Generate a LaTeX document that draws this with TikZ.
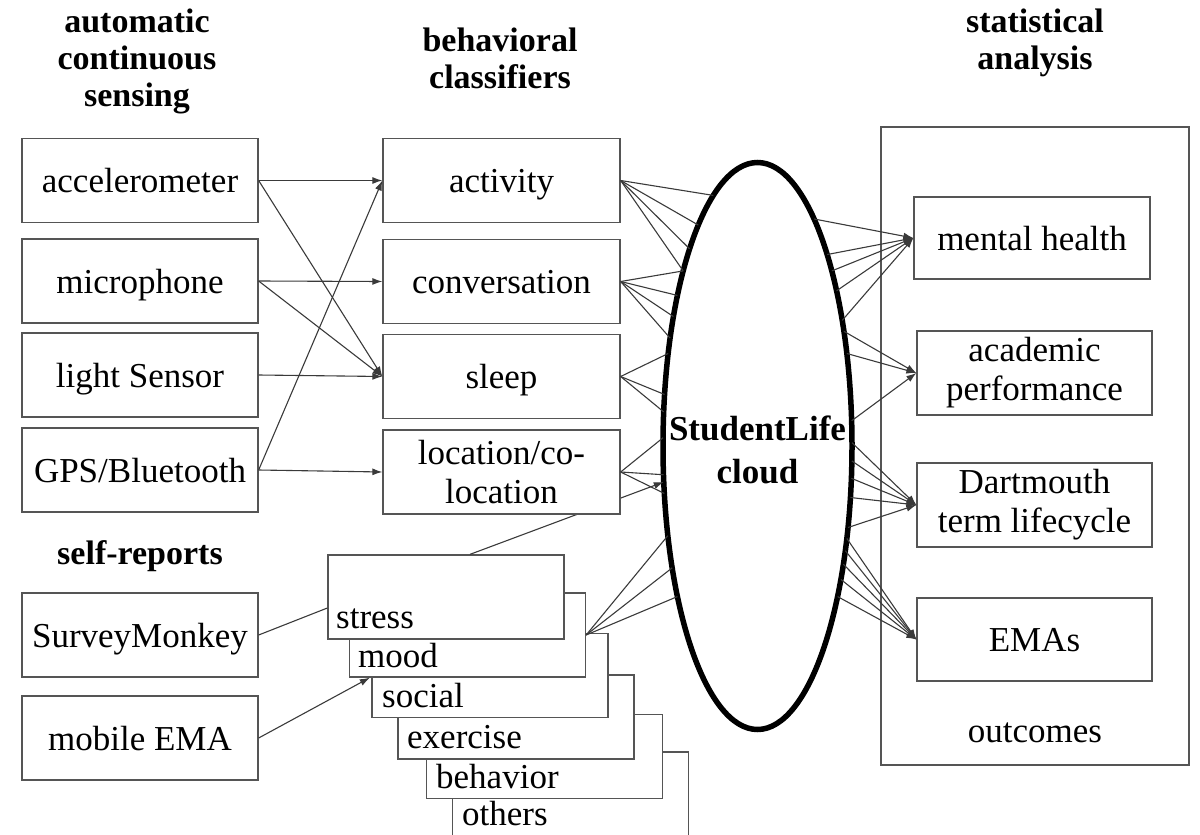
\documentclass[tikz,border=0pt]{standalone}
\usepackage{fontspec}
\setmainfont{Liberation Serif}
\usetikzlibrary{arrows.meta,shapes.geometric}
\definecolor{boxgray}{HTML}{555555}
\definecolor{linegray}{HTML}{3A3A3A}
\begin{document}
\begin{tikzpicture}[x=1pt,y=-1pt,
  hdr/.style={font=\fontsize{34}{37}\selectfont\bfseries, align=center, inner sep=0pt},
  plain/.style={font=\fontsize{35}{38}\selectfont, inner sep=0pt},
  box/.style={draw=boxgray, line width=1.3pt, fill=white, inner sep=0pt,
    minimum width=236pt, minimum height=84pt, align=center,
    font=\fontsize{35}{39}\selectfont},
  onebox/.style={box, text height=24pt, text depth=0pt},
  stk/.style={draw=boxgray, line width=1.3pt, fill=white, inner sep=0pt,
    minimum width=236pt, minimum height=84pt},
  conn/.style={draw=linegray, line width=1.1pt},
  arr/.style={conn, -{Latex[length=10pt,width=7pt]}}
]
\useasboundingbox (0,0) rectangle (1200,835);

% headers
\node[hdr] (h1) at (137,61) {automatic\\continuous\\sensing};
\node[hdr] (h2) at (500,58) {behavioral\\classifiers};
\node[hdr] (h3) at (1035,43) {statistical\\analysis};
\node[hdr] (h4) at (140,556) {self-reports};

% left column
\node[onebox] (acc) at (140,180.5) {accelerometer};
\node[onebox] (mic) at (140,281) {microphone};
\node[onebox] (light) at (140,375) {light Sensor};
\node[onebox] (gps) at (140,470) {GPS/Bluetooth};
\node[onebox] (sm) at (140,635) {SurveyMonkey};
\node[onebox] (ema) at (140,738) {mobile EMA};

% middle column
\node[onebox, minimum width=237pt] (act) at (501.5,180.5) {activity};
\node[onebox, minimum width=237pt] (conv) at (501.5,281.5) {conversation};
\node[onebox, minimum width=237pt] (sleep) at (501.5,376.5) {sleep};

% cloud
\node[ellipse, draw=black, line width=5.5pt, minimum width=189pt, minimum height=567pt,
  inner sep=0pt, outer sep=0pt] (cloud) at (757.5,446) {};
\node[font=\fontsize{35}{43}\selectfont\bfseries, align=center, inner sep=0pt] (cloudlabel)
  at (757.5,450) {StudentLife\\cloud};

% stacked self-report boxes (back to front)
\node[stk, minimum height=98pt] (others) at (570.5,801) {};
\node[stk] (behav) at (544.5,756.5) {};
\node[stk] (exer) at (516,717) {};
\node[stk] (social) at (490,675.5) {};
\node[stk] (mood) at (467.5,635) {};
\node[stk] (stress) at (446,597) {};
\node[plain, anchor=base west] (tothers) at (462,825) {others};
\node[plain, anchor=base west] (tbehav) at (436,788) {behavior};
\node[plain, anchor=base west] (texer) at (407,748) {exercise};
\node[plain, anchor=base west] (tsocial) at (382,707) {social};
\node[plain, anchor=base west] (tmood) at (358,667) {mood};
\node[plain, anchor=base west] (tstress) at (336,628) {stress};

% stress -> cloud line passing behind location box
\draw[arr] ([xshift=24pt]stress.north) -- (cloud.201.5);
\node[box, minimum width=237pt] (loc) at (501.5,472) {location/co-\\location};

% outcomes
\node[draw=boxgray, line width=1.3pt, minimum width=308pt, minimum height=638pt, inner sep=0pt] (outbox) at (1035,446) {};
\node[onebox, minimum height=82pt] (mh) at (1032,238) {mental health};
\node[box, minimum width=235pt] (acad) at (1034.5,373) {academic\\performance};
\node[box, minimum width=235pt] (dart) at (1034.5,505) {Dartmouth\\term lifecycle};
\node[onebox, minimum width=235pt, minimum height=83pt] (emas) at (1034.5,639.5) {EMAs};
\node[plain] (outc) at (1035,733) {outcomes};

% sensors -> classifiers
\draw[arr] (acc.east) -- (act.west);
\draw[arr] (acc.east) -- (sleep.west);
\draw[arr] (mic.east) -- (conv.west);
\draw[arr] (mic.east) -- (sleep.west);
\draw[arr] (light.east) -- (sleep.west);
\draw[arr] (gps.east) -- (loc.west);
\draw[arr] (gps.east) -- (act.west);

% self reports
\draw[conn] (sm.east) -- ([yshift=-11pt]stress.west);
\draw[arr] (ema.east) -- ([xshift=21pt]mood.south west);

% classifiers -> cloud
\foreach \a in {100.3,105.5,109.6,113.4} \draw[conn] (act.east) -- (cloud.\a);
\foreach \a in {113.4,118.4,123.9,129.6} \draw[conn] (conv.east) -- (cloud.\a);
\foreach \a in {134.5,151.3,160.6} \draw[conn] (sleep.east) -- (cloud.\a);
\foreach \a in {175.2,197.1,207.8} \draw[conn] (loc.east) -- (cloud.\a);
\foreach \a in {225.8,235.0,242.7} \draw[conn] (mood.east) -- (cloud.\a);

% cloud -> outcomes
\foreach \a in {76.0,70.8,67.7,63.2,56.6} \draw[arr] (cloud.\a) -- (mh.west);
\foreach \a in {53.9,46.5,15.4} \draw[arr] (cloud.\a) -- (acad.west);
\foreach \a in {2.4,-9.6,-19.9,-29.2,-42.9} \draw[arr] (cloud.\a) -- (dart.west);
\foreach \a in {-46.5,-50.7,-54.5,-58.1,-62.3} \draw[arr] (cloud.\a) -- (emas.west);
\end{tikzpicture}
\end{document}
